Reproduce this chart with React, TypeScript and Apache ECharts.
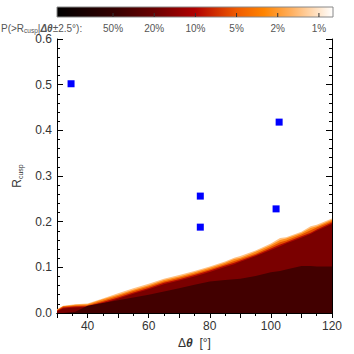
import React, { useEffect, useRef } from "react";
import * as echarts from "echarts";

// Δθ grid (degrees) for the filled probability contours
const thetaGrid = [30, 32, 36, 40, 45, 50, 55, 60, 65, 70, 75, 80, 85, 88, 90, 95, 100, 103, 105, 110, 113, 115, 120];
// Upper boundary of each probability band (R_cusp)
const p50 = [0.0, 0.0, 0.003, 0.016, 0.022, 0.028, 0.034, 0.040, 0.047, 0.054, 0.062, 0.069, 0.072, 0.074, 0.075, 0.081, 0.089, 0.092, 0.095, 0.103, 0.103, 0.102, 0.102];
const p20 = [0.004, 0.010, 0.012, 0.013, 0.021, 0.031, 0.042, 0.052, 0.063, 0.071, 0.080, 0.090, 0.101, 0.107, 0.112, 0.124, 0.138, 0.146, 0.152, 0.165, 0.173, 0.180, 0.195];
const p10 = [0.005, 0.012, 0.014, 0.015, 0.024, 0.034, 0.045, 0.055, 0.066, 0.074, 0.083, 0.093, 0.104, 0.110, 0.115, 0.127, 0.141, 0.150, 0.155, 0.168, 0.176, 0.183, 0.198];
const p5 = [0.006, 0.014, 0.016, 0.017, 0.027, 0.037, 0.048, 0.058, 0.069, 0.077, 0.086, 0.096, 0.107, 0.114, 0.118, 0.130, 0.145, 0.155, 0.159, 0.172, 0.181, 0.187, 0.201];
const p2 = [0.007, 0.015, 0.018, 0.019, 0.030, 0.040, 0.051, 0.061, 0.072, 0.080, 0.089, 0.099, 0.110, 0.118, 0.121, 0.134, 0.149, 0.160, 0.163, 0.175, 0.186, 0.190, 0.204];
const p1 = [0.008, 0.016, 0.019, 0.021, 0.032, 0.043, 0.054, 0.064, 0.075, 0.083, 0.092, 0.102, 0.113, 0.121, 0.125, 0.137, 0.152, 0.164, 0.166, 0.178, 0.190, 0.193, 0.207];

// Observed events (Δθ, R_cusp)
const obsTheta = [34.6, 76.9, 76.9, 101.7, 102.7];
const obsR = [0.502, 0.256, 0.188, 0.228, 0.418];

// Colour bar tick labels
const barLabels = ["50%", "20%", "10%", "5%", "2%", "1%"];

const bandColors = ["#ffc284", "#ff8c1c", "#e45000", "#b00a00", "#7a0000", "#420000"];

const FONT = "Liberation Sans, Arial, sans-serif";

export default function App() {
  const ref = useRef<HTMLDivElement>(null);
  useEffect(() => {
    if (!ref.current) return;
    const chart = echarts.init(ref.current, undefined, { renderer: "svg" });
    const levels = [p1, p2, p5, p10, p20, p50];
    const areaSeries = levels.map((lv, i) => ({
      type: "line",
      data: thetaGrid.map((t, j) => [t, lv[j]]),
      symbol: "none",
      silent: true,
      lineStyle: { width: 0 },
      areaStyle: { color: bandColors[i], opacity: 1, origin: "start" },
      z: 2 + i,
    }));

    const barX = 57, barY = 7, barW = 276, barH = 10;
    const barGraphics: any[] = [
      {
        type: "rect",
        shape: { x: barX, y: barY, width: barW, height: barH },
        style: {
          fill: new echarts.graphic.LinearGradient(0, 0, 1, 0, [
            { offset: 0, color: "#000000" },
            { offset: 0.2, color: "#320000" },
            { offset: 0.35, color: "#680000" },
            { offset: 0.5, color: "#b00000" },
            { offset: 0.65, color: "#ef5a00" },
            { offset: 0.75, color: "#ff8400" },
            { offset: 0.85, color: "#ffb060" },
            { offset: 0.95, color: "#ffe6cc" },
            { offset: 1, color: "#ffffff" },
          ]),
          stroke: "#888",
          lineWidth: 1,
        },
      },
    ];
    barLabels.forEach((lab, i) => {
      const x = barX + barW * (0.203 + 0.1492 * i);
      barGraphics.push({
        type: "line",
        shape: { x1: x, y1: barY + barH, x2: x, y2: barY + barH - 4 },
        style: { stroke: "#333", lineWidth: 1 },
      });
      barGraphics.push({
        type: "text",
        x,
        y: 28,
        style: {
          text: lab,
          fill: "#555",
          font: `10px ${FONT}`,
          align: "center",
          verticalAlign: "middle",
        },
      });
    });
    barGraphics.push({
      type: "text",
      x: 1,
      y: 28,
      style: {
        text: "{a|P(>R}{s|cusp}{a||}{t|Δθ}{a|±2.5°):}",
        verticalAlign: "middle",
        fill: "#555",
        rich: {
          a: { fontSize: 10, fontFamily: FONT, fill: "#555", lineHeight: 12 },
          s: { fontSize: 6.5, fontFamily: FONT, fill: "#555", padding: [5, 0, 0, 0], lineHeight: 12 },
          t: { fontSize: 10, fontFamily: FONT, fill: "#555", fontStyle: "italic", fontWeight: "bold", lineHeight: 12 },
        },
      },
    });

    const axisCommon = {
      axisLine: { lineStyle: { color: "#000", width: 1 } },
      splitLine: { show: false },
    };

    chart.setOption({
      animation: false,
      grid: { left: 57, right: 22, top: 39, bottom: 39 },
      xAxis: [
        {
          ...axisCommon,
          type: "value",
          min: 30,
          max: 120,
          interval: 10,
          position: "bottom",
          axisTick: { inside: true, length: 5, lineStyle: { color: "#000" } },
          minorTick: { show: true, splitNumber: 2, length: 3, lineStyle: { color: "#000" } },
          axisLabel: {
            formatter: (v: number) => (v % 20 === 0 ? String(v) : ""),
            color: "#333",
            fontSize: 12,
            fontFamily: FONT,
            margin: 7,
          },
          name: "{a|Δ}{t|θ}{a|  [°]}",
          nameLocation: "middle",
          nameGap: 24,
          nameTextStyle: {
            rich: {
              a: { fontSize: 12, fontFamily: FONT, color: "#333" },
              t: { fontSize: 12, fontFamily: FONT, color: "#333", fontStyle: "italic", fontWeight: "bold" },
            },
          },
        },
        {
          ...axisCommon,
          type: "value",
          min: 30,
          max: 120,
          interval: 10,
          position: "top",
          axisTick: { inside: true, length: 5, lineStyle: { color: "#000" } },
          minorTick: { show: true, splitNumber: 2, length: 3, lineStyle: { color: "#000" } },
          axisLabel: { show: false },
        },
      ],
      yAxis: [
        {
          ...axisCommon,
          type: "value",
          min: 0,
          max: 0.6,
          interval: 0.1,
          position: "left",
          axisTick: { inside: true, length: 6, lineStyle: { color: "#000" } },
          minorTick: { show: true, splitNumber: 5, length: 3, lineStyle: { color: "#000" } },
          axisLabel: {
            formatter: (v: number) => v.toFixed(1),
            color: "#333",
            fontSize: 12,
            fontFamily: FONT,
            margin: 5,
          },
          name: "{a|R}{s|cusp}",
          nameLocation: "middle",
          nameGap: 33,
          nameRotate: 90,
          nameTextStyle: {
            rich: {
              a: { fontSize: 12, fontFamily: FONT, color: "#333", lineHeight: 14 },
              s: { fontSize: 7, fontFamily: FONT, color: "#333", padding: [6, 0, 0, 0], lineHeight: 14 },
            },
          },
        },
        {
          ...axisCommon,
          type: "value",
          min: 0,
          max: 0.6,
          interval: 0.1,
          position: "right",
          axisTick: { inside: true, length: 6, lineStyle: { color: "#000" } },
          minorTick: { show: true, splitNumber: 5, length: 3, lineStyle: { color: "#000" } },
          axisLabel: { show: false },
        },
      ],
      series: [
        ...areaSeries,
        {
          type: "scatter",
          data: obsTheta.map((t, i) => [t, obsR[i]]),
          symbol: "rect",
          symbolSize: 7,
          itemStyle: { color: "#0000ff", opacity: 1 },
          z: 20,
        },
      ],
      graphic: barGraphics,
    });
    return () => chart.dispose();
  }, []);
  return <div ref={ref} style={{ width: 354, height: 354, position: "absolute", left: 0, top: 0 }} />;
}
